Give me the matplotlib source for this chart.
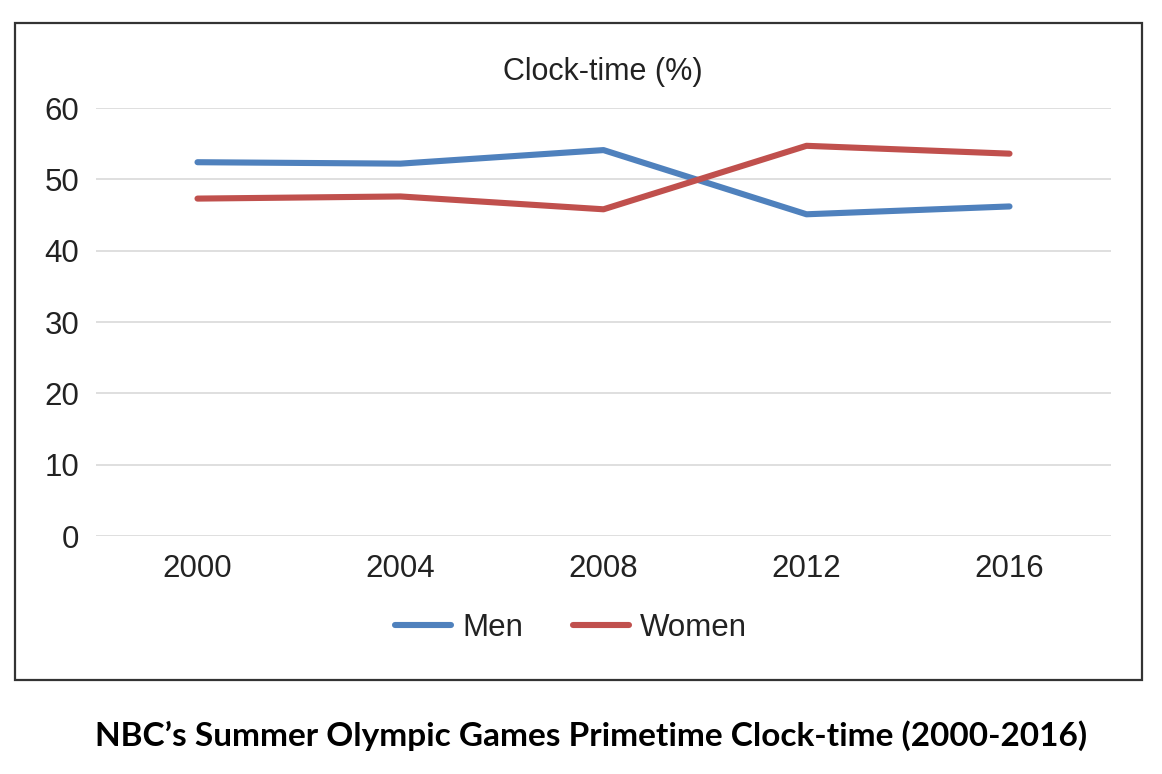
import matplotlib
matplotlib.use("Agg")
import matplotlib.pyplot as plt
from matplotlib.patches import Rectangle

years = ["2000", "2004", "2008", "2012", "2016"]
men = [52.4, 52.2, 54.1, 45.1, 46.2]
women = [47.3, 47.6, 45.8, 54.7, 53.6]
yticks = [0, 10, 20, 30, 40, 50, 60]

W, H = 1162, 774
fig = plt.figure(figsize=(W / 100, H / 100), dpi=100)
plt.rcParams['font.family'] = ['Liberation Sans', 'DejaVu Sans']

def fx(px):
    return px / W

def fy(py):
    return 1 - py / H

ax = fig.add_axes([fx(96), fy(536), fx(1111) - fx(96), fy(108) - fy(536)])
x = list(range(len(years)))
ax.plot(x, men, color="#4F81BD", lw=4.4, solid_capstyle="round", solid_joinstyle="round", label="Men")
ax.plot(x, women, color="#C0504D", lw=4.4, solid_capstyle="round", solid_joinstyle="round", label="Women")
ax.set_xlim(-0.5, len(years) - 0.5)
ax.set_ylim(0, 60)
ax.set_yticks(yticks)
ax.set_xticks(x)
ax.set_xticklabels(years)
ax.grid(axis="y", color="#D9D9D9", lw=1.2)
ax.set_axisbelow(True)
for s in ax.spines.values():
    s.set_visible(False)
ax.tick_params(axis="both", length=0, labelsize=22.5, colors="#222222")
ax.tick_params(axis="y", pad=12)
ax.tick_params(axis="x", pad=13)

fig.text(fx(603), fy(72), "Clock-time (%)", ha="center", va="center", fontsize=22, color="#222222")

leg = fig.legend(loc="center", bbox_to_anchor=(fx(571), fy(628)), ncol=2, frameon=False,
                 fontsize=22.5, handlelength=1.8, columnspacing=1.6, handletextpad=0.35)
for t in leg.get_texts():
    t.set_color("#222222")

fig.patches.append(Rectangle((fx(15), fy(680)), fx(1142) - fx(15), fy(23) - fy(680),
                             transform=fig.transFigure, fill=False, edgecolor="#333333", lw=1.6))

fig.text(fx(591), fy(736), "NBC\u2019s Summer Olympic Games Primetime Clock-time (2000-2016)",
         ha="center", va="center", fontsize=24, fontweight="bold", family=["Lato", "DejaVu Sans"])

fig.savefig("out.png", dpi=100)
